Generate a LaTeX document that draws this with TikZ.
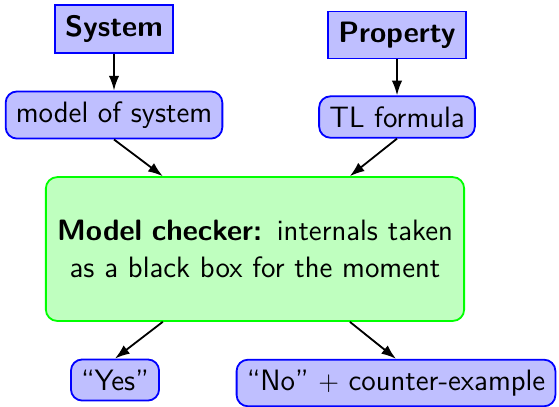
\documentclass[tikz,border=0pt]{standalone}
\usetikzlibrary{arrows.meta}
\renewcommand{\familydefault}{\sfdefault}
\begin{document}
\begin{tikzpicture}[x=0.0155cm, y=-0.0155cm, >={Latex[length=6.5pt,width=4.6pt]},
		font=\fontsize{13}{16}\selectfont,
		caja/.style={draw=blue, fill=blue!25, thick, inner sep=4.5pt},
		cajar/.style={caja, rounded corners=5pt},
		checker/.style={draw=green, fill=green!25, thick, rounded corners=5pt,
			minimum width=6.43cm, minimum height=2.23cm, text width=6.25cm, align=center}]
		\useasboundingbox (0,0) rectangle (559,406);
		% Entradas
			\node[caja] (system) at (114,29) {\textbf{System}};
			\node[caja] (property) at (397,35) {\textbf{Property}};
		% Modelos
			\node[cajar] (model) at (114,115) {model of system};
			\node[cajar] (tl) at (397,117) {TL formula};
		% Verificador
			\node[checker] (mc) at (255,249) {\textbf{Model checker:} internals taken as a black box for the moment};
		% Salidas
			\node[cajar] (yes) at (115,380) {``Yes''};
			\node[cajar] (no) at (396,383) {``No'' $+$ counter-example};
		% Flechas
			\draw[->, thick] (system) -- (model);
			\draw[->, thick] (property) -- (tl);
			\draw[->, thick] (model.south) -- ([xshift=-1.43cm]mc.north);
			\draw[->, thick] (tl.south) -- ([xshift=1.47cm]mc.north);
			\draw[->, thick] ([xshift=-1.43cm]mc.south) -- (yes.north);
			\draw[->, thick] ([xshift=1.47cm]mc.south) -- (no.north);
	\end{tikzpicture}
\end{document}
